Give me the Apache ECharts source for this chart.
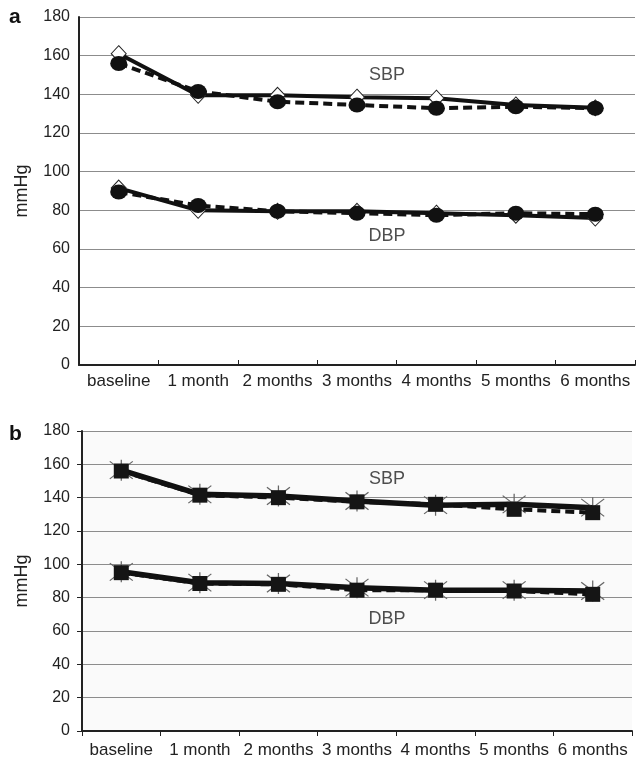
<!DOCTYPE html>
<html>
<head>
<meta charset="utf-8">
<script src="https://cdn.jsdelivr.net/npm/echarts@6/dist/echarts.min.js"></script>
<style>html,body{margin:0;padding:0;background:#fff}#c{width:639px;height:763px}</style>
</head>
<body>
<div id="c"></div>
<script>
var categories = ['baseline', '1 month', '2 months', '3 months', '4 months', '5 months', '6 months'];
var yTicks = [0, 20, 40, 60, 80, 100, 120, 140, 160, 180];
// Panel a
var aSbpSolid  = [161, 139.5, 139.5, 138.5, 138, 134.5, 133];
var aSbpDashed = [156, 141.5, 136.2, 134.5, 132.8, 133.6, 132.8];
var aDbpSolid  = [91.5, 80, 79.5, 79.5, 78.5, 77.5, 76];
var aDbpDashed = [89.5, 82.5, 79.5, 78.5, 77.5, 78.5, 78];
// Panel b
var bSbpSolid  = [156.5, 142, 141, 138, 135.5, 136, 134];
var bSbpDashed = [156, 141.5, 140, 137.5, 136, 133, 131];
var bDbpSolid  = [95.5, 89, 88.5, 86, 84.5, 84.5, 84];
var bDbpDashed = [95, 88.5, 88, 84.5, 84.5, 84, 82];
// Text label anchors: [category index, value]
var aLabels = [['SBP', 3, 150], ['DBP', 3, 66.7]];
var bLabels = [['SBP', 3, 151], ['DBP', 3, 67]];

var FONT = 'Liberation Sans, Arial, sans-serif';
var STAR = 'path://M0,0L10,10M10,0L0,10M5,-1L5,11';

function yAxis(gi, ticksOut, gap) {
  return {
    type: 'value', gridIndex: gi, min: 0, max: 180, interval: 20,
    name: 'mmHg', nameLocation: 'middle', nameGap: gap, nameRotate: 90,
    nameTextStyle: { fontFamily: FONT, fontSize: 18, color: '#222' },
    axisLine: { show: true, lineStyle: { color: '#222', width: 2 } },
    axisTick: { show: ticksOut, length: 5, lineStyle: { color: '#222' } },
    axisLabel: { fontFamily: FONT, fontSize: 16, color: '#222', margin: ticksOut ? 12 : 9 },
    splitLine: { show: true, lineStyle: { color: '#8c8c8c', width: 1 } }
  };
}
function xAxis(gi, inside, margin) {
  return {
    type: 'category', gridIndex: gi, data: categories, boundaryGap: true,
    axisLine: { show: true, lineStyle: { color: '#222', width: 2 } },
    axisTick: { show: true, inside: inside, length: 5, alignWithLabel: false, lineStyle: { color: '#222' } },
    axisLabel: { fontFamily: FONT, fontSize: 17, color: '#222', interval: 0, margin: margin }
  };
}
function lineSeries(xi, data, dashed, symbol, size, itemStyle, width, z) {
  return {
    type: 'line', xAxisIndex: xi, yAxisIndex: xi, data: data,
    symbol: symbol, symbolSize: size, showAllSymbol: true,
    lineStyle: { color: '#111', width: width, type: dashed ? [9, 5] : 'solid' },
    itemStyle: itemStyle, z: z, animation: false
  };
}
function labelSeries(xi, labels) {
  return {
    type: 'scatter', xAxisIndex: xi, yAxisIndex: xi, symbolSize: 0, silent: true, animation: false,
    data: labels.map(function (l) { return { value: [l[1], l[2]], name: l[0] }; }),
    label: { show: true, position: 'inside', offset: [30, 0], formatter: '{b}',
             fontFamily: FONT, fontSize: 18, color: '#222' }, z: 10
  };
}

var diamondStyle = { color: '#fff', borderColor: '#222', borderWidth: 1 };
var circleStyle = { color: '#111', borderColor: '#111', borderWidth: 0 };
var squareStyle = { color: '#151515', borderColor: '#151515', borderWidth: 0 };
var starStyle = { color: 'rgba(0,0,0,0)', borderColor: '#666', borderWidth: 1.2 };

var chart = echarts.init(document.getElementById('c'), null, { renderer: 'canvas' });
chart.setOption({
  animation: false,
  backgroundColor: '#fff',
  graphic: [
    { type: 'text', left: 9, top: 7, style: { text: 'a', fontFamily: FONT, fontSize: 21, fontWeight: 'bold', fill: '#111' } },
    { type: 'text', left: 9, top: 424, style: { text: 'b', fontFamily: FONT, fontSize: 21, fontWeight: 'bold', fill: '#111' } }
  ],
  grid: [
    { left: 79, right: 4, top: 17, height: 348, containLabel: false },
    { left: 82, right: 7, top: 431, height: 300, containLabel: false,
      show: true, backgroundColor: '#fafafa', borderWidth: 0 }
  ],
  xAxis: [xAxis(0, true, 8), xAxis(1, false, 11)],
  yAxis: [yAxis(0, false, 48), yAxis(1, true, 51)],
  series: [
    lineSeries(0, aSbpSolid, false, 'diamond', [15, 16], diamondStyle, 4, 2),
    lineSeries(0, aDbpSolid, false, 'diamond', [15, 16], diamondStyle, 4, 2),
    lineSeries(0, aSbpDashed, true, 'circle', [17, 15], circleStyle, 4, 3),
    lineSeries(0, aDbpDashed, true, 'circle', [17, 15], circleStyle, 4, 3),
    lineSeries(1, bSbpSolid, false, STAR, [23, 21], starStyle, 5.5, 2),
    lineSeries(1, bDbpSolid, false, STAR, [23, 21], starStyle, 5.5, 2),
    lineSeries(1, bSbpDashed, true, 'rect', [15, 15], squareStyle, 4, 3),
    lineSeries(1, bDbpDashed, true, 'rect', [15, 15], squareStyle, 4, 3),
    labelSeries(0, aLabels),
    labelSeries(1, bLabels)
  ]
});
</script>
</body>
</html>
